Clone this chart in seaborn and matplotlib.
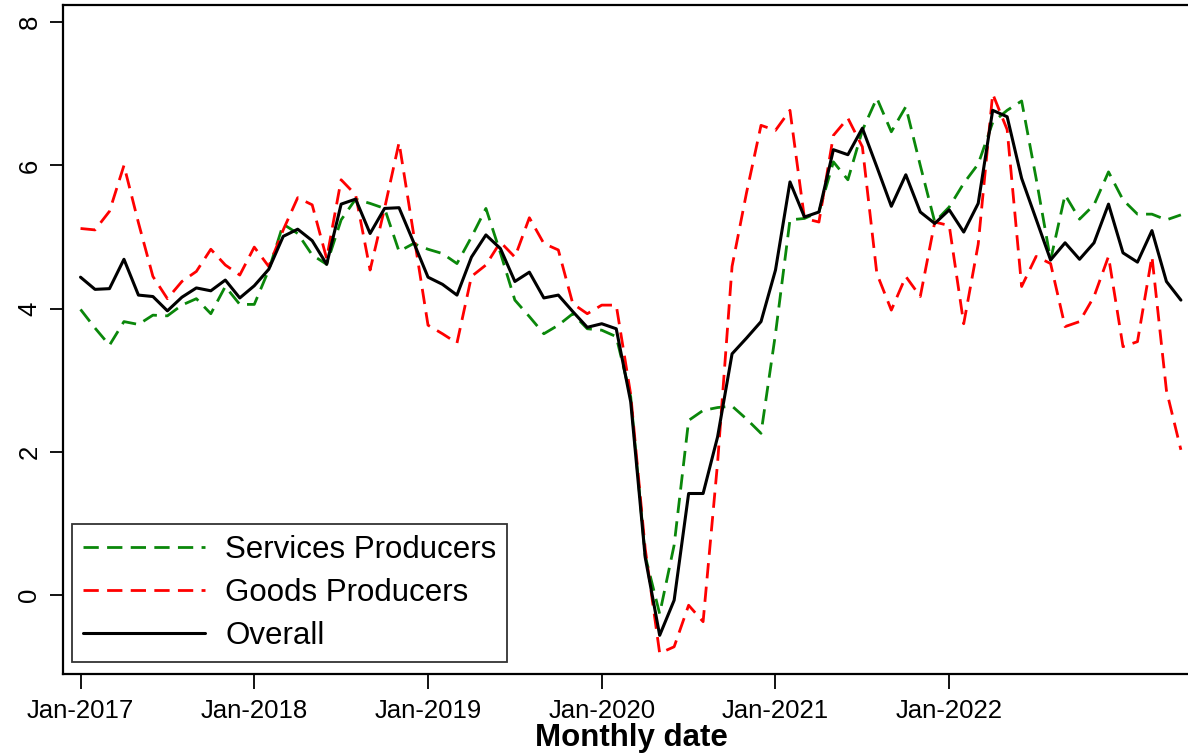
import numpy as np
import pandas as pd
import matplotlib
matplotlib.use("Agg")
import matplotlib.pyplot as plt
import seaborn as sns

# monthly series, Jan-2017 .. May-2023
months = pd.date_range("2017-01-01", periods=77, freq="MS")

services = [3.99, 3.73, 3.49, 3.82, 3.78, 3.91, 3.90, 4.05, 4.14, 3.93, 4.31, 4.06,
            4.06, 4.54, 5.18, 5.05, 4.75, 4.62, 5.24, 5.53, 5.47, 5.40, 4.80, 4.91,
            4.83, 4.77, 4.63, 5.00, 5.40, 4.78, 4.12, 3.89, 3.65, 3.77, 3.93, 3.72,
            3.70, 3.61, 2.77, 0.55, -0.26, 0.70, 2.44, 2.58, 2.62, 2.64, 2.46, 2.26,
            3.65, 5.24, 5.26, 5.35, 6.05, 5.80, 6.49, 6.94, 6.47, 6.82, 6.00, 5.21,
            5.42, 5.75, 6.02, 6.60, 6.77, 6.90, 5.82, 4.68, 5.59, 5.25, 5.45, 5.91,
            5.52, 5.32, 5.32, 5.24, 5.31]

goods = [5.12, 5.10, 5.36, 6.00, 5.20, 4.45, 4.14, 4.38, 4.52, 4.83, 4.61, 4.47,
         4.86, 4.59, 5.10, 5.55, 5.45, 4.70, 5.80, 5.59, 4.54, 5.40, 6.32, 5.05,
         3.77, 3.65, 3.52, 4.45, 4.61, 4.93, 4.72, 5.27, 4.91, 4.82, 4.07, 3.93,
         4.05, 4.05, 2.80, 0.65, -0.81, -0.72, -0.14, -0.37, 1.85, 4.59, 5.62, 6.56,
         6.49, 6.77, 5.26, 5.21, 6.42, 6.66, 6.26, 4.49, 3.98, 4.45, 4.17, 5.21,
         5.16, 3.79, 4.90, 7.00, 6.50, 4.31, 4.73, 4.63, 3.75, 3.82, 4.17, 4.73,
         3.47, 3.54, 4.73, 2.86, 2.03]

overall = [4.44, 4.27, 4.28, 4.69, 4.19, 4.17, 3.97, 4.16, 4.29, 4.25, 4.40, 4.15,
           4.32, 4.55, 5.01, 5.11, 4.95, 4.62, 5.46, 5.53, 5.05, 5.40, 5.41, 4.93,
           4.44, 4.34, 4.19, 4.72, 5.03, 4.84, 4.38, 4.51, 4.15, 4.19, 3.96, 3.74,
           3.79, 3.72, 2.70, 0.53, -0.56, -0.07, 1.42, 1.42, 2.21, 3.37, 3.59, 3.82,
           4.54, 5.77, 5.28, 5.35, 6.22, 6.15, 6.52, 5.98, 5.43, 5.87, 5.35, 5.19,
           5.38, 5.07, 5.47, 6.77, 6.68, 5.82, 5.25, 4.68, 4.92, 4.69, 4.92, 5.46,
           4.78, 4.65, 5.09, 4.38, 4.12]

tick_years = [2017, 2018, 2019, 2020, 2021, 2022]
y_ticks = [0, 2, 4, 6, 8]

df = pd.DataFrame({
    "t": np.arange(len(months)),
    "Services Producers": services,
    "Goods Producers": goods,
    "Overall": overall,
})

sns.set_style("white")
plt.rcParams["font.family"] = ["Liberation Sans", "DejaVu Sans"]
plt.rcParams["text.color"] = "black"
plt.rcParams["axes.labelcolor"] = "black"
plt.rcParams["xtick.color"] = "black"
plt.rcParams["ytick.color"] = "black"

W, H = 1188, 753
fig = plt.figure(figsize=(W / 100, H / 100), dpi=100)
ax = fig.add_axes([63 / W, 1 - 674 / H, (1199 - 63) / W, (674 - 5) / H])

dash = (0, (5.5, 3.0))
sns.lineplot(data=df, x="t", y="Services Producers", ax=ax, color="#0a870a",
             linewidth=2.0, linestyle=dash, label="Services Producers")
sns.lineplot(data=df, x="t", y="Goods Producers", ax=ax, color="#ff0000",
             linewidth=2.0, linestyle=dash, label="Goods Producers")
sns.lineplot(data=df, x="t", y="Overall", ax=ax, color="black",
             linewidth=2.2, label="Overall")

ax.set_xlim(-1.21, 77.25)
ax.set_ylim(-1.10, 8.24)

tick_pos = [int(np.where((months.year == y) & (months.month == 1))[0][0]) for y in tick_years]
ax.set_xticks(tick_pos)
ax.set_xticklabels([months[i].strftime("%b-%Y") for i in tick_pos], fontsize=18.5)
ax.set_yticks(y_ticks)
ax.set_yticklabels([str(v) for v in y_ticks], fontsize=18.5, rotation=90, va="center")
ax.tick_params(axis="x", bottom=True, direction="out", length=11, width=1.3, pad=7,
               colors="black")
ax.tick_params(axis="y", left=True, direction="out", length=9.5, width=1.3, pad=6,
               colors="black")

ax.set_ylabel("")
ax.set_xlabel("Monthly date", fontsize=22.5, fontweight="bold", labelpad=0)

for side in ["left", "bottom", "top"]:
    ax.spines[side].set_visible(True)
    ax.spines[side].set_color("black")
    ax.spines[side].set_linewidth(1.6)
ax.spines["right"].set_visible(False)

leg = ax.legend(loc="lower left", bbox_to_anchor=((72 - 63) / (1199 - 63), (674 - 662) / (674 - 5)),
                fontsize=22.5, frameon=True, fancybox=False, handlelength=3.9,
                handletextpad=0.65, borderpad=0.35, labelspacing=0.42, borderaxespad=0)
leg.get_frame().set_edgecolor("black")
leg.get_frame().set_linewidth(1.3)
for txt in leg.get_texts():
    txt.set_color("black")

fig.savefig("out.png", dpi=100)
